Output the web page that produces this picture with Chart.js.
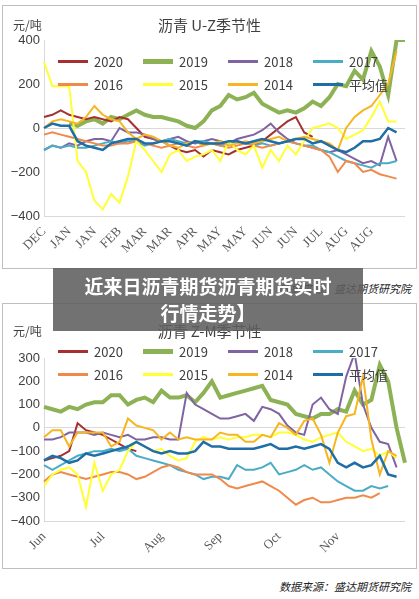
<!DOCTYPE html>
<html><head><meta charset="utf-8">
<script src="https://cdn.jsdelivr.net/npm/chart.js@4"></script>
<style>
body{margin:0;background:#fff;width:419px;height:599px;position:relative;overflow:hidden;font-family:"Noto Sans CJK SC","Noto Sans",sans-serif}
.box{position:absolute;left:2px;width:413px;border:1px solid #bfbfbf;background:#fff}
.title{position:absolute;width:100%;text-align:center;font-size:15px;color:#404040}
.unit{position:absolute;left:10px;font-size:12px;color:#404040}
.legend{position:absolute;left:55px;width:340px;display:grid;grid-template-columns:repeat(4,1fr);row-gap:4px;font-size:13px;color:#404040}
.legend span{display:flex;align-items:center}
.legend i{display:inline-block;width:30px;margin-right:6px}
.src{position:absolute;right:8px;font-size:11px;font-style:italic;color:#222}
#banner{position:absolute;left:53px;top:268px;width:310px;height:63px;background:rgba(95,95,95,0.88);color:#fff;font-weight:bold;font-size:19px;text-align:center;line-height:27px;padding-top:4px;box-sizing:border-box}
</style></head><body>
<div class="box" style="top:5px;height:262px">
  <div class="unit" style="top:10px">元/吨</div>
  <div class="title" style="top:8px">沥青 U-Z季节性</div>
  <canvas id="c1" width="413" height="262"></canvas>
  <div class="legend" id="lg1" style="top:46px"></div>
</div>
<div class="src" style="top:280px">数据来源：盛达期货研究院</div>
<div class="box" style="top:303px;height:264px">
  <div class="unit" style="top:18px">元/吨</div>
  <div class="title" style="top:16px">沥青 Z-M季节性</div>
  <canvas id="c2" width="413" height="264"></canvas>
  <div class="legend" id="lg2" style="top:38px"></div>
</div>
<div class="src" style="top:578px">数据来源：盛达期货研究院</div>
<div id="banner">近来日沥青期货沥青期货实时<br>行情走势】</div>
<script>
const seriesNames = ["2020", "2019", "2018", "2017", "2016", "2015", "2014", "平均值"];
const seriesColors = ["#a5302f", "#8db255", "#8064a2", "#4bacc6", "#f08a4b", "#ffff33", "#f7b521", "#1f6ea5"];
const seriesWidths = [2, 4, 2, 2, 2, 2, 2, 2.5];

// top chart (U-Z), 3 points per month label
const monthsTop = ["DEC", "JAN", "JAN", "FEB", "MAR", "MAR", "APR", "MAY", "MAY", "JUN", "JUN", "JUL", "AUG", "AUG", ""];
const top2020 = [50, 60, 80, 60, 50, 40, 50, 40, 30, 50, 40, 0, -40, -50, -60, -80, -100, -110, -100, -130, -100, -110, -120, -100, -90, -80, -60, -30, 0, 30, 50, -20, -40];
const top2019 = [null, null, null, 20, 10, 30, 40, 20, 50, 40, 60, 80, 60, 50, 50, 40, 30, 10, 0, 30, 80, 100, 150, 130, 140, 160, 110, 90, 70, 80, 70, 90, 120, 100, 140, 200, 190, 260, 220, 350, 280, 150, 400, 400];
const top2018 = [-100, -80, -90, -70, -80, -60, -50, -50, -60, 0, -20, -20, -30, -50, -60, -50, -40, -60, -70, -60, -50, -60, -70, -50, -40, -30, -10, 20, -20, -50, -70, -80, -90, -100, -110, -100, -120, -140, -160, -150, -170, -40, -150];
const top2017 = [-100, -80, -90, -80, -90, -90, -80, -70, -60, -70, -60, -60, -80, -70, -60, -50, -60, -70, -60, -60, -70, -80, -70, -60, -70, -80, -70, -80, -70, -60, -70, -80, -80, -100, -110, -130, -150, -160, -170, -180, -160, -160, -150];
const top2016 = [-30, -20, -30, -40, -50, -60, -70, -80, -80, -70, -70, -60, -70, -80, -90, -80, -70, -80, -90, -80, -70, -80, -90, -80, -70, -80, -90, -80, -70, -60, -70, -80, -90, -100, -130, -200, -150, -160, -200, -190, -210, -220, -230];
const top2015 = [300, 190, 190, 190, -150, -200, -330, -370, -300, -340, -220, -60, -100, -150, -200, -120, -100, -150, -130, -120, -100, -150, -60, -100, -120, -80, -180, -100, -150, -80, -120, -60, 0, 10, 20, 0, -50, -30, -10, 50, 120, 30, 30];
const top2014 = [0, 30, 40, 30, 20, 50, 100, 60, 40, 30, -20, -50, -30, -40, -60, -80, -90, -70, -60, -80, -70, -60, -80, -70, -60, -70, -60, -50, -40, -60, -50, -40, -50, -60, -70, -100, 0, 50, 80, 100, 150, 200, 350];
const topAvg = [0, 20, 10, 10, -60, -80, -90, -100, -70, -60, -50, -50, -70, -70, -60, -60, -70, -80, -60, -70, -70, -70, -60, -60, -70, -60, -50, -60, -70, -60, -50, -50, -70, -60, -80, -100, -110, -90, -60, -60, -50, 0, -20];

// bottom chart (Z-M), 7 points per month label
const monthsBot = ["Jun", "Jul", "Aug", "Sep", "Oct", "Nov", ""];
const bot2020 = [-140, -130, -120, -100, 20, -10, -20, -30, -50, -70, -90, -100];
const bot2019 = [90, 80, 70, 90, 80, 100, 110, 110, 140, 140, 100, 120, 130, 110, 160, 130, 130, 140, 110, 150, 200, 130, 140, 150, 160, 170, 180, 120, 110, 100, 60, 50, 40, 60, 60, 80, 70, 160, 100, 120, 270, 200, 0, -150];
const bot2018 = [-50, -50, -40, -20, -20, -20, -30, -20, -30, -40, -30, -50, -50, -40, -40, -50, -50, 150, 100, 80, 60, 40, 40, 50, 60, 30, 90, 80, 60, 10, -20, -30, 100, 130, 80, 60, 220, 320, 100, 0, -60, -70, -170];
const bot2017 = [-160, -180, -160, -140, -120, -110, -100, -100, -90, -100, -90, -120, -130, -140, -150, -160, -180, -190, -200, -220, -210, -210, -220, -160, -180, -180, -170, -150, -200, -190, -180, -160, -180, -170, -200, -230, -250, -270, -270, -250, -260, -250];
const bot2016 = [-230, -200, -190, -200, -210, -220, -210, -200, -190, -190, -200, -220, -210, -190, -170, -160, -170, -190, -200, -200, -200, -220, -250, -260, -250, -240, -230, -250, -270, -300, -330, -310, -300, -320, -320, -310, -300, -300, -290, -300, -280];
const bot2015 = [-250, -200, -180, -170, -200, -340, -150, -270, -200, -180, -100, -60, -80, -100, -90, -120, -140, -130, -60, -40, -50, -40, -50, -40, -40, -30, -30, -40, -20, -20, -30, -50, -60, -40, -30, -20, -60, -80, -100, -90, -120, -100, -130];
const bot2014 = [-40, -10, -10, -80, -20, -20, -20, -20, -80, -60, 40, 10, 0, -10, -50, -20, -50, -40, -50, -50, -50, -20, -30, -30, -60, -60, -30, -40, 20, 0, -30, 30, 40, -30, -150, -20, 50, 60, 220, -50, -200, -100, -120];
const botAvg = [-140, -120, -130, -150, -140, -110, -120, -110, -100, -90, -80, -60, -80, -100, -110, -100, -110, -110, -100, -60, -80, -80, -90, -90, -90, -90, -80, -70, -90, -90, -80, -90, -80, -70, -90, -150, -170, -150, -170, -160, -120, -200, -210];

const topTicks = [-400, 400, 200];
const botTicks = [-400, 300, 100];

function expand(months, per, n) {
    const out = [];
    for (let i = 0; i < n; i++) out.push(i % per === 0 ? (months[i / per] || "") : "");
    return out;
}

function legend(id) {
    const el = document.getElementById(id);
    seriesNames.forEach((n, i) => {
        el.innerHTML += `<span><i style="height:${seriesWidths[i] + 1}px;background:${seriesColors[i]}"></i>${n}</span>`;
    });
}

function draw(id, labels, data, ticks, padTop, xHeight) {
    const axisFont = { family: "Liberation Serif", size: 13 };
    new Chart(document.getElementById(id), {
        type: "line",
        data: {
            labels: labels,
            datasets: data.map((d, i) => ({
                label: seriesNames[i], data: d,
                borderColor: seriesColors[i], borderWidth: seriesWidths[i],
                pointRadius: 0, tension: 0, order: i === 7 ? 0 : (i === 1 ? 8 : 7 - i)
            }))
        },
        options: {
            responsive: false, animation: false,
            layout: { padding: { top: padTop, right: 10, left: 2, bottom: 4 } },
            plugins: { legend: { display: false }, tooltip: { enabled: false } },
            scales: {
                x: {
                    offset: false,
                    grid: { display: false }, border: { color: "#d9d9d9" },
                    afterFit: s => { s.height = xHeight; },
                    ticks: { autoSkip: false, maxRotation: 45, minRotation: 45, color: "#595959", font: axisFont, padding: 0 }
                },
                y: {
                    min: ticks[0], max: ticks[1],
                    afterFit: s => { s.width = 39; },
                    border: { color: "#d9d9d9" },
                    grid: { drawTicks: false, color: c => c.tick.value === 0 ? "#d9d9d9" : "transparent" },
                    ticks: { stepSize: ticks[2], color: "#404040", font: { family: "Liberation Sans", size: 13 }, padding: 4,
                             callback: v => v < 0 ? "−" + (-v) : v }
                }
            }
        }
    });
}

legend("lg1");
legend("lg2");
draw("c1", expand(monthsTop, 3, 44), [top2020, top2019, top2018, top2017, top2016, top2015, top2014, topAvg], topTicks, 34, 48);
draw("c2", expand(monthsBot, 7, 44), [bot2020, bot2019, bot2018, bot2017, bot2016, bot2015, bot2014, botAvg], botTicks, 54, 43);
</script>
</body></html>
